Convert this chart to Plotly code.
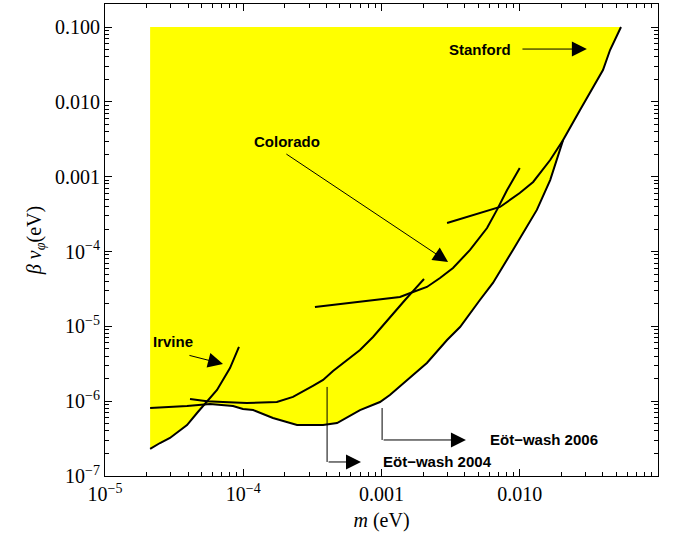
import numpy as np
import plotly.graph_objects as go

# ---- data ----
# Lowest curve: Eöt-wash 2006 joining Stanford at large m
ew06_x = [2.12e-5, 2.95e-5, 3.92e-5, 5.75e-5, 8.43e-5, 9.95e-5, 1.18e-4, 1.64e-4, 2.45e-4,
          3.78e-4, 4.77e-4, 6.99e-4, 9.75e-4, 1.15e-3, 1.61e-3, 2.13e-3, 2.98e-3, 3.70e-3,
          5.15e-3, 6.4e-3, 8.93e-3, 1.19e-2, 1.33e-2, 1.66e-2, 2.06e-2, 2.73e-2, 4.0e-2,
          4.5e-2, 5.4e-2]
ew06_y = [8.1e-7, 8.35e-7, 8.6e-7, 9.2e-7, 8.6e-7, 7.85e-7, 7.6e-7, 5.96e-7, 4.8e-7,
          4.8e-7, 5.1e-7, 7.6e-7, 9.75e-7, 1.21e-6, 2.1e-6, 3.24e-6, 6.57e-6, 9.8e-6,
          2.25e-5, 3.8e-5, 1.05e-4, 2.48e-4, 3.6e-4, 9.0e-4, 3.1e-3, 7.8e-3, 2.67e-2,
          4.93e-2, 0.1]

irvine_x = [2.12e-5, 2.5e-5, 2.95e-5, 3.49e-5, 3.92e-5, 4.63e-5, 5.12e-5, 6.46e-5, 8.02e-5, 9.31e-5]
irvine_y = [2.3e-7, 2.76e-7, 3.22e-7, 4.12e-7, 4.8e-7, 6.95e-7, 8.6e-7, 1.41e-6, 2.77e-6, 5.3e-6]

ew04_x = [4.12e-5, 5.47e-5, 7.14e-5, 1.06e-4, 1.75e-4, 2.29e-4, 3.19e-4, 3.78e-4, 4.46e-4,
          5.63e-4, 6.99e-4, 8.68e-4, 1.06e-3, 1.25e-3, 1.48e-3, 1.69e-3, 1.90e-3, 2.03e-3]
ew04_y = [1.07e-6, 1.0e-6, 9.75e-7, 9.45e-7, 9.75e-7, 1.14e-6, 1.6e-6, 1.92e-6, 2.53e-6,
          3.55e-6, 4.83e-6, 7.2e-6, 1.11e-5, 1.6e-5, 2.25e-5, 2.96e-5, 3.68e-5, 4.29e-5]

colorado_x = [3.3e-4, 5.63e-4, 9.75e-4, 1.36e-3, 1.69e-3, 2.13e-3, 2.65e-3, 3.29e-3, 4.37e-3,
              5.8e-3, 6.84e-3, 8.1e-3, 1.0e-2]
colorado_y = [1.81e-5, 2.05e-5, 2.32e-5, 2.47e-5, 2.88e-5, 3.36e-5, 4.43e-5, 6.03e-5, 1.05e-4,
              2.06e-4, 3.6e-4, 6.64e-4, 1.31e-3]

upper_x = [2.98e-3, 4.6e-3, 7.2e-3, 1.0e-2, 1.25e-2, 1.66e-2, 2.06e-2]
upper_y = [2.4e-4, 3.08e-4, 3.94e-4, 6.05e-4, 8.5e-4, 1.67e-3, 3.1e-3]

region_top = 0.1

x_tickvals = [1e-5, 1e-4, 1e-3, 1e-2]
x_ticktext = ["10<sup>\u22125</sup>", "10<sup>\u22124</sup>", "0.001", "0.010"]
y_tickvals = [1e-7, 1e-6, 1e-5, 1e-4, 1e-3, 1e-2, 1e-1]
y_ticktext = ["10<sup>\u22127</sup>", "10<sup>\u22126</sup>", "10<sup>\u22125</sup>",
              "10<sup>\u22124</sup>", "0.001", "0.010", "0.100"]

# labels: (text, text x, text y, arrow tail x, tail y, tip x, tip y)
labels = [
    ("Irvine", 2.15e-5, 6.2e-6, 3.98e-5, 4.14e-6, 7.14e-5, 3.14e-6),
    ("Colorado", 1.16e-4, 3.0e-3, 2.0e-4, 2.07e-3, 3.03e-3, 7.25e-5),
    ("Stanford", 2.98e-3, 5.08e-2, 1.02e-2, 5.08e-2, 3.06e-2, 5.08e-2),
]
# bracket labels: (text, text x, line x, line top y, line bottom y, tip x)
brackets = [
    ("E\u00f6t\u2212wash 2004", 9.9e-4, 4.04e-4, 1.55e-6, 1.54e-7, 7.11e-4),
    ("E\u00f6t\u2212wash 2006", 5.89e-3, 1.01e-3, 8.1e-7, 3.03e-7, 4.08e-3),
]

# ---- yellow excluded region ----
cross_x = irvine_x[6]
fx = [irvine_x[0], ew06_x[-1]]
fy = [region_top, region_top]
for xx, yy in zip(reversed(ew06_x), reversed(ew06_y)):
    if xx > cross_x:
        fx.append(xx); fy.append(yy)
for xx, yy in zip(reversed(irvine_x), reversed(irvine_y)):
    if xx <= cross_x:
        fx.append(xx); fy.append(yy)

fig = go.Figure()
fig.add_trace(go.Scatter(x=fx, y=fy, fill="toself", fillcolor="#FFFF00",
                         line=dict(width=0), mode="lines", hoverinfo="skip"))

line_style = dict(color="black", width=2)
for xs, ys in [(ew06_x, ew06_y), (irvine_x, irvine_y), (ew04_x, ew04_y),
               (colorado_x, colorado_y), (upper_x, upper_y)]:
    fig.add_trace(go.Scatter(x=xs, y=ys, mode="lines", line=line_style))

lab_font = dict(family="Liberation Sans", size=15, color="black")
ann = []
for text, tx, ty, ax_, ay_, hx, hy in labels:
    ann.append(dict(x=np.log10(tx), y=np.log10(ty), text="<b>%s</b>" % text,
                    showarrow=False, xanchor="left", yanchor="middle", font=lab_font))
    ann.append(dict(x=np.log10(hx), y=np.log10(hy), ax=np.log10(ax_), ay=np.log10(ay_),
                    axref="x", ayref="y", text="", showarrow=True, arrowhead=2,
                    arrowsize=3, arrowwidth=1, arrowcolor="black"))
for text, tx, lx, ytop, ybot, hx in brackets:
    fig.add_trace(go.Scatter(x=[lx, lx], y=[ytop, ybot], mode="lines",
                             line=dict(color="black", width=1)))
    ann.append(dict(x=np.log10(tx), y=np.log10(ybot), text="<b>%s</b>" % text,
                    showarrow=False, xanchor="left", yanchor="middle", font=lab_font))
    ann.append(dict(x=np.log10(hx), y=np.log10(ybot), ax=np.log10(lx), ay=np.log10(ybot),
                    axref="x", ayref="y", text="", showarrow=True, arrowhead=2,
                    arrowsize=3, arrowwidth=1, arrowcolor="black"))

axis_font = dict(family="Liberation Serif", size=20, color="black")
common = dict(type="log", showgrid=False, zeroline=False, showline=True, linecolor="black",
              linewidth=1, mirror="ticks", ticks="inside", ticklen=7, tickcolor="black",
              tickfont=axis_font, tickmode="array", automargin=True,
              minor=dict(ticks="inside", ticklen=4, tickcolor="black", dtick="D1", showgrid=False))

fig.update_layout(
    width=677, height=533, showlegend=False,
    margin=dict(l=105, r=19, t=4, b=57, autoexpand=False),
    paper_bgcolor="white", plot_bgcolor="white",
    xaxis=dict(range=[-5, -1], tickvals=x_tickvals, ticktext=x_ticktext,
               title=dict(text="<i>m</i> (eV)", font=axis_font, standoff=8), **common),
    yaxis=dict(range=[-7, -0.692], tickvals=y_tickvals, ticktext=y_ticktext,
               title=dict(text="<i>\u03b2 v</i><sub><i>\u03c6</i></sub>(eV)", font=axis_font,
                          standoff=8),
               **common),
    annotations=ann,
)

fig.write_html("out.html", config={"displayModeBar": False},
               post_script="document.body.style.margin='0px';")
